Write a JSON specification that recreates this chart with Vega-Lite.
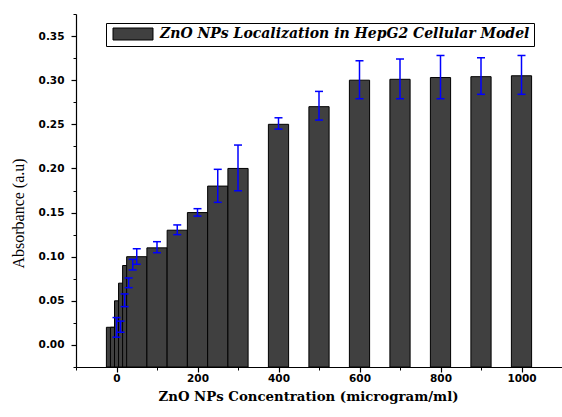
{
  "$schema": "https://vega.github.io/schema/vega-lite/v6.json",
  "width": 486,
  "height": 353,
  "autosize": {"type": "none"},
  "padding": {"left": 76, "top": 14, "right": 0, "bottom": 50},
  "background": "white",
  "config": {"view": {"stroke": null}, "axis": {"grid": false}, "scale": {"continuousPadding": 0}},
  "data": {
    "values": [
      {"conc": 0, "abs": 0.020, "lo": 0.0088, "hi": 0.031},
      {"conc": 10, "abs": 0.020, "lo": 0.0144, "hi": 0.027},
      {"conc": 20, "abs": 0.050, "lo": 0.0434, "hi": 0.0578},
      {"conc": 30, "abs": 0.070, "lo": 0.0649, "hi": 0.0759},
      {"conc": 40, "abs": 0.090, "lo": 0.085, "hi": 0.097},
      {"conc": 50, "abs": 0.100, "lo": 0.0914, "hi": 0.109},
      {"conc": 100, "abs": 0.110, "lo": 0.1045, "hi": 0.117},
      {"conc": 150, "abs": 0.130, "lo": 0.125, "hi": 0.136},
      {"conc": 200, "abs": 0.150, "lo": 0.146, "hi": 0.1544},
      {"conc": 250, "abs": 0.180, "lo": 0.1616, "hi": 0.199},
      {"conc": 300, "abs": 0.200, "lo": 0.1747, "hi": 0.2265},
      {"conc": 400, "abs": 0.250, "lo": 0.2446, "hi": 0.2574},
      {"conc": 500, "abs": 0.270, "lo": 0.2548, "hi": 0.2873},
      {"conc": 600, "abs": 0.300, "lo": 0.279, "hi": 0.322},
      {"conc": 700, "abs": 0.301, "lo": 0.279, "hi": 0.324},
      {"conc": 800, "abs": 0.303, "lo": 0.279, "hi": 0.328},
      {"conc": 900, "abs": 0.304, "lo": 0.284, "hi": 0.3254},
      {"conc": 1000, "abs": 0.305, "lo": 0.284, "hi": 0.328}
    ]
  },
  "resolve": {"axis": {"x": "independent", "y": "independent"}},
  "layer": [
    {
      "mark": {"type": "point", "opacity": 0},
      "encoding": {
        "x": {"field": "conc", "type": "quantitative",
          "scale": {"domain": [-100, 1100], "nice": false, "zero": false, "padding": 0},
          "axis": {"orient": "bottom", "values": [-100, 100, 300, 500, 700, 900, 1100], "labels": false, "domain": false, "tickSize": 3, "tickColor": "black", "tickWidth": 1, "title": null}},
        "y": {"field": "abs", "type": "quantitative",
          "scale": {"domain": [-0.025, 0.375], "nice": false, "zero": false, "padding": 0},
          "axis": {"orient": "left", "values": [-0.025, 0.025, 0.075, 0.125, 0.175, 0.225, 0.275, 0.325, 0.375], "labels": false, "domain": false, "tickSize": 3, "tickColor": "black", "tickWidth": 1, "title": null}}
      }
    },
    {
      "mark": {"type": "bar", "width": 20.2, "stroke": "black", "strokeWidth": 1},
      "encoding": {
        "x": {"field": "conc", "type": "quantitative",
          "axis": {"orient": "bottom", "values": [0, 200, 400, 600, 800, 1000], "format": "d",
            "domainColor": "black", "domainWidth": 1.2, "tickColor": "black", "tickSize": 5, "tickWidth": 1.2,
            "labelFont": "DejaVu Sans", "labelFontWeight": "bold", "labelFontSize": 10.5, "labelColor": "black", "labelPadding": 1,
            "title": "ZnO NPs Concentration (microgram/ml)", "titleFont": "DejaVu Serif", "titleFontWeight": "bold", "titleFontSize": 13.3, "titleColor": "black",
            "titleX": 232, "titleY": 29, "titleBaseline": "middle", "titleAlign": "center"}},
        "y": {"field": "abs", "type": "quantitative",
          "axis": {"orient": "left", "values": [0, 0.05, 0.1, 0.15, 0.2, 0.25, 0.3, 0.35], "format": ".2f",
            "domainColor": "black", "domainWidth": 1.2, "tickColor": "black", "tickSize": 5, "tickWidth": 1.2,
            "labelFont": "DejaVu Sans", "labelFontWeight": "bold", "labelFontSize": 10.5, "labelColor": "black", "labelPadding": 7,
            "title": "Absorbance (a.u)", "titleFont": "Liberation Serif", "titleFontWeight": "normal", "titleFontSize": 16, "titleColor": "black",
            "titleAngle": -90, "titleX": -58, "titleY": 199, "titleBaseline": "middle", "titleAlign": "center"}},
        "y2": {"datum": -0.025},
        "color": {"datum": "ZnO NPs Localization in HepG2 Cellular Model",
          "scale": {"range": ["#404040"]},
          "legend": {"title": null, "orient": "none", "legendX": 30, "legendY": 9,
            "symbolType": "M-3.333,-1H3.333V1H-3.333Z", "symbolSize": 144, "symbolStrokeColor": "black", "symbolStrokeWidth": 1,
            "symbolOffset": 16,
            "labelFont": "DejaVu Serif", "labelFontSize": 14, "labelFontStyle": "italic", "labelFontWeight": "bold", "labelColor": "black",
            "labelLimit": 0, "labelOffset": 20, "padding": 4, "strokeColor": "black", "fillColor": "white"}}
      }
    },
    {
      "mark": {"type": "rule", "color": "#0000ff", "strokeWidth": 1.5},
      "encoding": {
        "x": {"field": "conc", "type": "quantitative", "axis": null},
        "y": {"field": "lo", "type": "quantitative", "axis": null},
        "y2": {"field": "hi"}
      }
    },
    {
      "mark": {"type": "tick", "orient": "horizontal", "color": "#0000ff", "size": 8, "thickness": 1.5, "opacity": 1},
      "encoding": {
        "x": {"field": "conc", "type": "quantitative", "axis": null},
        "y": {"field": "lo", "type": "quantitative", "axis": null}
      }
    },
    {
      "mark": {"type": "tick", "orient": "horizontal", "color": "#0000ff", "size": 8, "thickness": 1.5, "opacity": 1},
      "encoding": {
        "x": {"field": "conc", "type": "quantitative", "axis": null},
        "y": {"field": "hi", "type": "quantitative", "axis": null}
      }
    }
  ]
}
